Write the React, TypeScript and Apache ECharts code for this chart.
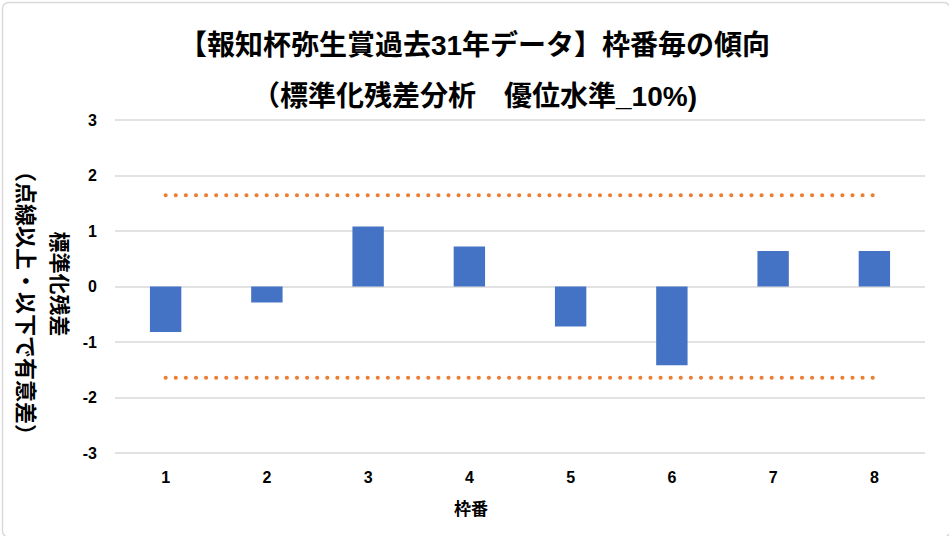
import React, { useEffect, useRef } from "react";
import * as echarts from "echarts";

const categories = ["1", "2", "3", "4", "5", "6", "7", "8"];
const residuals = [-0.82, -0.29, 1.08, 0.72, -0.72, -1.42, 0.64, 0.64];
const upperLimit = [1.645, 1.645, 1.645, 1.645, 1.645, 1.645, 1.645, 1.645];
const lowerLimit = [-1.645, -1.645, -1.645, -1.645, -1.645, -1.645, -1.645, -1.645];
const titleLine1 = "【報知杯弥生賞過去31年データ】枠番毎の傾向";
const titleLine2 = "（標準化残差分析　優位水準_10%)";
const yName1 = "標準化残差";
const yName2 = "（点線以上・以下で有意差）";
const xName = "枠番";

const FONT = "'Liberation Sans', 'Noto Sans CJK JP', sans-serif";

export default function App() {
  const ref = useRef<HTMLDivElement>(null);
  useEffect(() => {
    document.body.style.margin = "0";
    const chart = echarts.init(ref.current!, null, { renderer: "svg" });
    const dotted = {
      type: "line" as const,
      symbol: "none",
      silent: true,
      lineStyle: { color: "#ED7D31", width: 4, type: [0.1, 10], cap: "round" as const },
      z: 3,
    };
    chart.setOption({
      animation: false,
      backgroundColor: "#ffffff",
      textStyle: { fontFamily: FONT },
      title: {
        text: titleLine1 + "\n" + titleLine2,
        left: "center",
        top: 15,
        textStyle: { fontSize: 28, fontWeight: "bold", color: "#000", lineHeight: 51, fontFamily: FONT },
      },
      grid: { left: 115, right: 24, top: 120, bottom: 83, containLabel: false },
      xAxis: {
        type: "category",
        data: categories,
        axisLine: { show: false },
        axisTick: { show: false },
        axisLabel: { fontSize: 16, fontWeight: "bold", color: "#000", margin: 16, fontFamily: FONT },
      },
      yAxis: {
        type: "value",
        min: -3,
        max: 3,
        interval: 1,
        axisLine: { show: false },
        axisTick: { show: false },
        splitLine: { lineStyle: { color: "#D9D9D9", width: 1.5 } },
        axisLabel: { fontSize: 16, fontWeight: "bold", color: "#000", margin: 18, fontFamily: FONT },
      },
      series: [
        {
          type: "bar",
          data: residuals,
          barWidth: "31%",
          itemStyle: { color: "#4472C4" },
          z: 2,
        },
        { ...dotted, data: upperLimit },
        { ...dotted, data: lowerLimit },
      ],
      graphic: [
        {
          type: "rect",
          left: 0,
          top: 0,
          shape: { x: 0.75, y: 0.75, width: 947.5, height: 534.5, r: 6 },
          style: { fill: "none", stroke: "#D9D9D9", lineWidth: 1.5 },
          silent: true,
        },
        {
          type: "text",
          x: 59,
          y: 284,
          rotation: -Math.PI / 2,
          style: {
            text: yName1,
            font: `bold 21px ${FONT}`,
            fill: "#000",
            textAlign: "center",
            textVerticalAlign: "middle",
          },
        },
        {
          type: "text",
          x: 25,
          y: 303,
          rotation: -Math.PI / 2,
          style: {
            text: yName2,
            font: `bold 22px ${FONT}`,
            fill: "#000",
            textAlign: "center",
            textVerticalAlign: "middle",
          },
        },
        {
          type: "text",
          x: 471,
          y: 509,
          style: {
            text: xName,
            font: `bold 17px ${FONT}`,
            fill: "#000",
            textAlign: "center",
            textVerticalAlign: "middle",
          },
        },
      ],
    });
    return () => chart.dispose();
  }, []);
  return <div ref={ref} style={{ width: 949, height: 536 }} />;
}
